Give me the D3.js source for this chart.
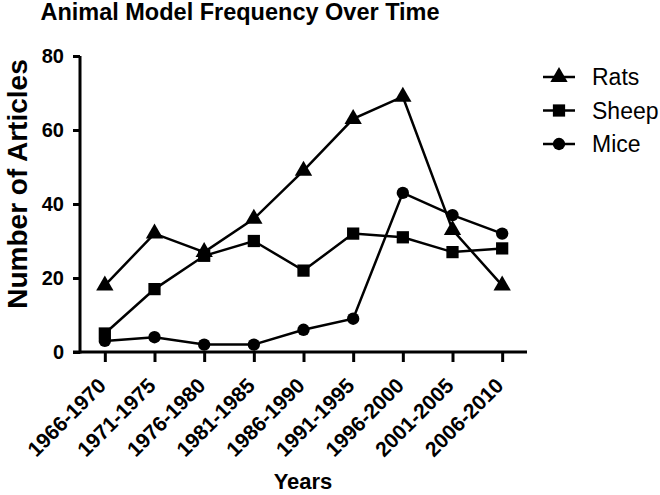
<!DOCTYPE html>
<html><head><meta charset="utf-8">
<script src="https://cdn.jsdelivr.net/npm/d3@7"></script>
<style>body{margin:0;background:#fff}svg{display:block}text{font-family:"Liberation Sans",Arial,sans-serif}</style>
</head><body>
<svg id="c" width="660" height="495"></svg>
<script>
const categories = ["1966-1970","1971-1975","1976-1980","1981-1985","1986-1990","1991-1995","1996-2000","2001-2005","2006-2010"];
const rats  = [18, 32, 27, 36, 49, 63, 69, 33, 18];
const sheep = [5, 17, 26, 30, 22, 32, 31, 27, 28];
const mice  = [3, 4, 2, 2, 6, 9, 43, 37, 32];
const yTicks = [0, 20, 40, 60, 80];
const seriesNames = ["Rats","Sheep","Mice"];

const svg = d3.select("#c");
const x = d3.scalePoint().domain(categories).range([80, 527]).padding(0.5);
const y = d3.scaleLinear().domain([0, 80]).range([352, 56]);

// title
svg.append("text").attr("x", 240).attr("y", 20).attr("text-anchor","middle")
  .attr("font-size", 23.5).attr("font-weight","bold").text("Animal Model Frequency Over Time");

// y axis
const ya = svg.append("g").attr("transform","translate(80,0)")
  .call(d3.axisLeft(y).tickValues(yTicks).tickSize(7).tickPadding(9).tickFormat(d3.format("d")));
ya.select(".domain").attr("stroke","#000").attr("stroke-width",3).attr("d","M0,56V353.5");
ya.selectAll(".tick line").attr("stroke-width",3);
ya.selectAll(".tick text").attr("font-size",20).attr("font-weight","bold").attr("fill","#000")
  .style("font-family","'Liberation Sans',Arial,sans-serif");

// x axis
const xa = svg.append("g").attr("transform","translate(0,352)")
  .call(d3.axisBottom(x).tickSize(10).tickPadding(6));
xa.select(".domain").attr("stroke","#000").attr("stroke-width",3).attr("d","M73,0H527");
xa.selectAll(".tick line").attr("stroke-width",3);
xa.selectAll(".tick text").attr("font-size",21).attr("font-weight","bold").attr("fill","#000")
  .style("font-family","'Liberation Sans',Arial,sans-serif")
  .attr("text-anchor","end").attr("dy","0").attr("y",0).attr("transform","translate(2,35) rotate(-45)");

// axis titles
svg.append("text").attr("transform","translate(27,184) rotate(-90)").attr("text-anchor","middle")
  .attr("font-size",28).attr("font-weight","bold").text("Number of Articles");
svg.append("text").attr("x",303).attr("y",489).attr("text-anchor","middle")
  .attr("font-size",22).attr("font-weight","bold").text("Years");

const symbols = [d3.symbolTriangle, d3.symbolSquare, d3.symbolCircle];
const sizes = [130, 150, 120];
const data = [rats, sheep, mice];
const line = d3.line().x((d,i)=>x(categories[i])).y(d=>y(d));

data.forEach((vals, s) => {
  svg.append("path").attr("d", line(vals)).attr("fill","none").attr("stroke","#000").attr("stroke-width",2.5);
  svg.append("g").selectAll("path").data(vals).join("path")
    .attr("transform",(d,i)=>`translate(${x(categories[i])},${y(d)})`)
    .attr("d", d3.symbol().type(symbols[s]).size(sizes[s])).attr("fill","#000");
});

// legend
const lg = svg.append("g");
seriesNames.forEach((n, i) => {
  const ly = 77 + i * 33.5;
  lg.append("line").attr("x1",543).attr("x2",575).attr("y1",ly).attr("y2",ly).attr("stroke","#000").attr("stroke-width",2.5);
  lg.append("path").attr("transform",`translate(559,${ly})`).attr("d", d3.symbol().type(symbols[i]).size(sizes[i])).attr("fill","#000");
  lg.append("text").attr("x",592).attr("y",ly+8).attr("font-size",23).text(n);
});
</script>
</body></html>
